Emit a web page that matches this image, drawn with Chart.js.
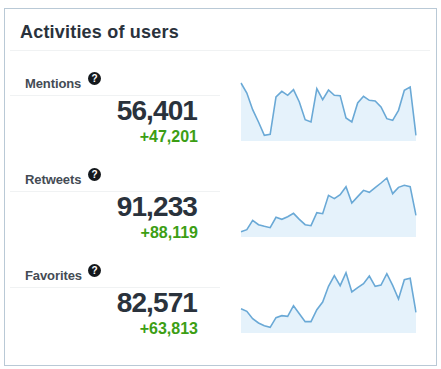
<!DOCTYPE html>
<html><head><meta charset="utf-8">
<script src="https://cdn.jsdelivr.net/npm/chart.js@4"></script>
<style>
html,body{margin:0;padding:0;background:#fff;width:441px;height:369px;overflow:hidden;font-family:"Liberation Sans",Arial,sans-serif}
#card{position:absolute;left:4px;top:8px;width:431px;height:356px;border:1px solid #b9c9d6;box-sizing:content-box}
.abs{position:absolute;white-space:nowrap}
#title{left:20px;top:22px;font-size:18px;line-height:20px;font-weight:bold;color:#2a323c;letter-spacing:.2px}
.rule{position:absolute;height:1px;background:#f0f2f3}
.label{left:25px;font-size:13px;line-height:14px;font-weight:bold;color:#444b54;letter-spacing:-.1px}
.help{width:13px;height:13px;border-radius:50%;background:#14181c;color:#fff;font-size:10px;line-height:13px;font-weight:bold;text-align:center}
.num{right:244px;font-size:28px;line-height:32px;font-weight:bold;color:#2a323c;letter-spacing:-.9px}
.delta{right:243px;font-size:16px;line-height:18px;font-weight:bold;color:#3c9e14}
canvas{position:absolute}
.wrap{position:absolute;left:236px;width:185px;height:71px}
</style></head><body>
<div id="card"></div>
<div id="title" class="abs">Activities of users</div>
<div class="rule" style="left:10px;top:50px;width:420px"></div>
<div id="rows"></div>
<script>
const labelNames = ["Mentions","Retweets","Favorites"];
const totals = ["56,401","91,233","82,571"];
const deltas = ["+47,201","+88,119","+63,813"];
const days = ["1","2","3","4","5","6","7","8","9","10","11","12","13","14","15","16","17","18","19","20","21","22","23","24","25","26","27","28","29","30","31"];
const mentions = [174,144,94,57,17,20,132,149,137,154,117,64,57,157,124,153,137,136,69,57,114,134,122,120,102,67,62,92,152,162,17];
const retweets = [16,22,50,37,32,28,59,53,61,71,53,37,34,73,70,125,115,127,151,102,121,140,134,148,162,177,130,149,155,151,65];
const favorites = [73,65,43,30,22,17,46,52,50,82,58,34,34,70,93,140,172,142,181,123,136,148,171,140,144,178,143,102,160,164,62];
const seriesList = [mentions,retweets,favorites];
const rowTops = [70,166,262];

const rows = document.getElementById('rows');
labelNames.forEach((name,i)=>{
  const t = rowTops[i];
  rows.insertAdjacentHTML('beforeend',
    `<div class="abs label" style="top:${t+7}px">${name}</div>
     <div class="abs help" style="left:88px;top:${t+2}px">?</div>
     <div class="rule" style="left:10px;top:${t+25}px;width:210px"></div>
     <div class="abs num" style="top:${t+25}px">${totals[i]}</div>
     <div class="abs delta" style="top:${t+58}px">${deltas[i]}</div>
     <div class="wrap" style="top:${t}px"><canvas id="c${i}"></canvas></div>`);
  new Chart(document.getElementById('c'+i),{
    type:'line',
    data:{labels:days,datasets:[{label:name,data:seriesList[i],borderColor:'#6aa9d6',borderWidth:1.6,
      backgroundColor:'#e5f2fb',fill:'origin',pointRadius:0,tension:0}]},
    options:{responsive:true,maintainAspectRatio:false,animation:false,
      layout:{padding:{left:5,right:5,top:0,bottom:0}},
      plugins:{legend:{display:false},tooltip:{enabled:false}},
      scales:{x:{display:false,offset:false},y:{display:false,min:0,max:213}}}
  });
});
</script>
</body></html>
